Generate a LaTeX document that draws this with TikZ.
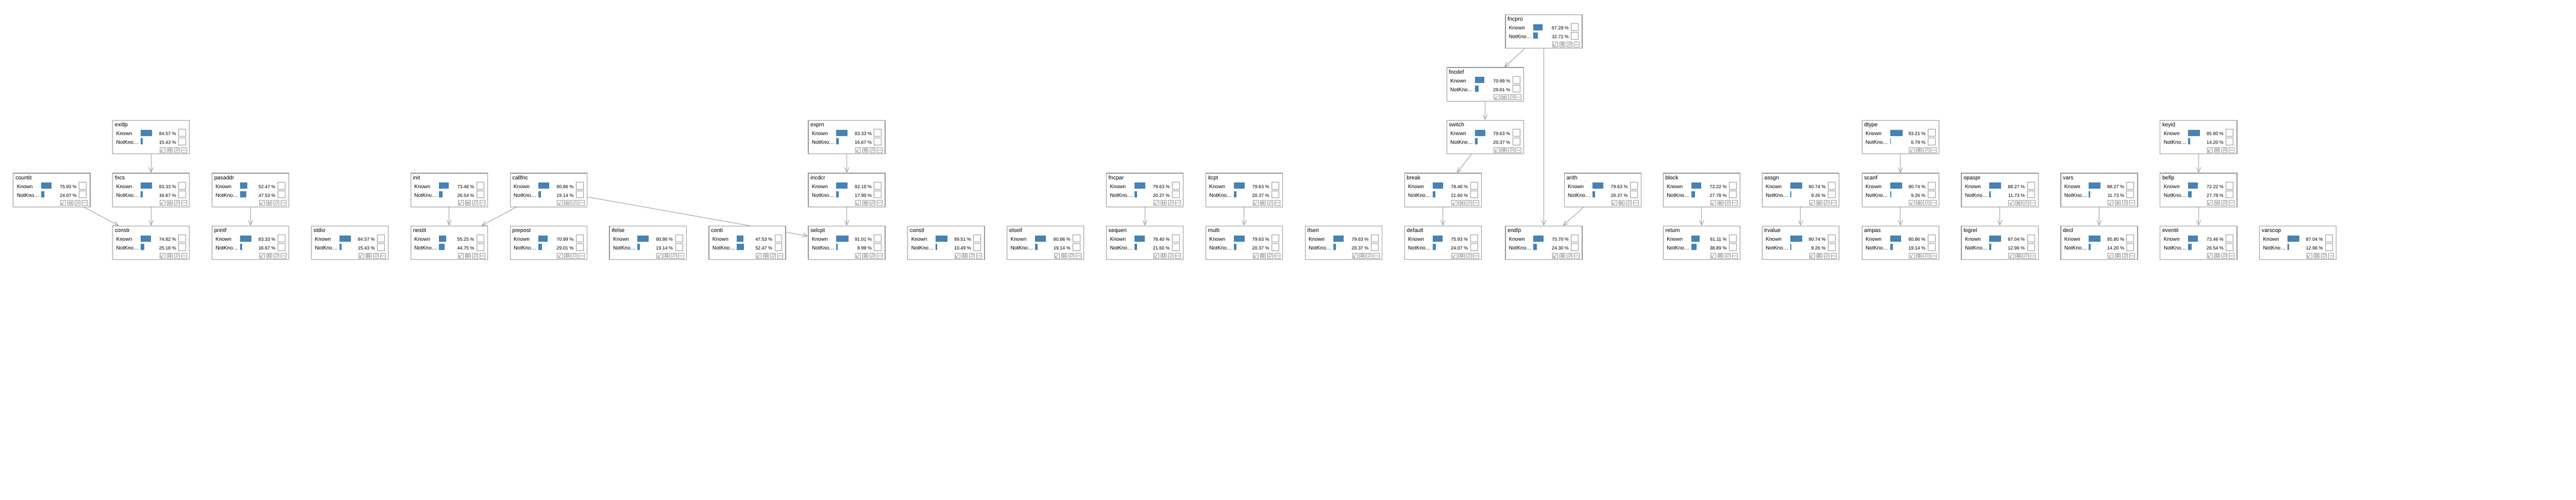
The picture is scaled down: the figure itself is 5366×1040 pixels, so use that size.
\documentclass[tikz,border=0pt]{standalone}
\usepackage{fontspec}
\setmainfont{Liberation Sans}
\usetikzlibrary{arrows.meta,backgrounds}

\definecolor{barblue}{RGB}{70,130,180}
\definecolor{edgegray}{RGB}{160,160,160}
\definecolor{boxgray}{RGB}{150,150,150}

\tikzset{
  bnbox/.style={draw=boxgray,line width=1.4pt,fill=white,minimum width=160pt,
    minimum height=70pt,inner sep=0pt,anchor=north west},
  bntitle/.style={anchor=base west,inner sep=0pt,font=\fontsize{11.5}{13}\selectfont},
  bnlabel/.style={anchor=base west,inner sep=0pt,font=\fontsize{10.8}{12}\selectfont},
  bnpct/.style={anchor=base east,inner sep=0pt,font=\fontsize{9.6}{11}\selectfont},
  bncheck/.style={draw=boxgray,line width=0.9pt},
  bnicon/.style={draw=boxgray,line width=0.8pt},
  link/.style={draw=edgegray,line width=1.1pt,-{Straight Barb[length=10pt,width=9pt]}}
}

% one network node: name, left, top, known, not known
\newcommand{\bnode}[5]{%
  \node[bnbox] (#1) at (#2,-#3) {};
  \begin{scope}[shift={(#2,-#3)}]
    \node[bntitle] at (5,-14) {#1};
    \node[bnlabel] at (8,-32) {Known};
    \node[bnlabel] at (8,-50) {NotKno…};
    \pgfmathsetmacro\kbar{max(2,0.28*#4)}
    \pgfmathsetmacro\nbar{max(2,0.28*#5)}
    \fill[barblue] (59,-20) rectangle ++(\kbar,-13);
    \fill[barblue] (59,-38) rectangle ++(\nbar,-13);
    \node[bnpct] at (133,-32) {#4 \%};
    \node[bnpct] at (133,-50) {#5 \%};
    \draw[bncheck] (138,-19) rectangle ++(15,-15);
    \draw[bncheck] (138,-37) rectangle ++(15,-15);
    % tool icons
    \foreach \k in {0,...,3}
      \draw[bnicon] (99+15*\k,-57) rectangle ++(11,-11);
    \draw[bnicon] (107.5,-59.5) -- (101.5,-65.5);
    \draw[bnicon] (101.5,-61.5) -- (101.5,-65.5) -- (105.5,-65.5);
    \draw[bnicon] (117.7,-58.5) -- (117.7,-66.5) (121.3,-58.5) -- (121.3,-66.5)
      (115.5,-60.7) -- (123.5,-60.7) (115.5,-64.3) -- (123.5,-64.3);
    \draw[bnicon] (135.5,-61.5) circle (2.6);
    \draw[bnicon] (133.6,-63.4) -- (131,-66);
    \draw[bnicon] (145.5,-62.5) -- (153.5,-62.5);
  \end{scope}}

\begin{document}
\begin{tikzpicture}[x=1pt,y=1pt]
  \useasboundingbox (0,0) rectangle (5366,-1040);
  % top rows
  \bnode{fncpro}{3135}{30}{67.28}{32.72}
  \bnode{fncdef}{3013}{140}{70.99}{29.01}
  \bnode{exitlp}{234}{250}{84.57}{15.43}
  \bnode{exprn}{1683}{250}{83.33}{16.67}
  \bnode{switch}{3013}{250}{79.63}{20.37}
  \bnode{dtype}{3878}{250}{93.21}{6.79}
  \bnode{keyid}{4499}{250}{85.80}{14.20}
  % fourth row
  \bnode{countit}{27}{360}{75.93}{24.07}
  \bnode{fncs}{234}{360}{83.33}{16.67}
  \bnode{pasaddr}{441}{360}{52.47}{47.53}
  \bnode{init}{855}{360}{73.46}{26.54}
  \bnode{callfnc}{1062}{360}{80.86}{19.14}
  \bnode{incdcr}{1683}{360}{82.10}{17.90}
  \bnode{fncpar}{2304}{360}{79.63}{20.37}
  \bnode{itcpt}{2511}{360}{79.63}{20.37}
  \bnode{break}{2925}{360}{78.40}{21.60}
  \bnode{arith}{3258}{360}{79.63}{20.37}
  \bnode{block}{3464}{360}{72.22}{27.78}
  \bnode{assgn}{3670}{360}{90.74}{9.26}
  \bnode{scanf}{3878}{360}{90.74}{9.26}
  \bnode{opaspr}{4085}{360}{88.27}{11.73}
  \bnode{vars}{4292}{360}{88.27}{11.73}
  \bnode{beflp}{4499}{360}{72.22}{27.78}
  % bottom row
  \bnode{constr}{234}{470}{74.82}{25.18}
  \bnode{printf}{441}{470}{83.33}{16.67}
  \bnode{stdio}{648}{470}{84.57}{15.43}
  \bnode{nestit}{855}{470}{55.25}{44.75}
  \bnode{prepost}{1062}{470}{70.99}{29.01}
  \bnode{ifelse}{1269}{470}{80.86}{19.14}
  \bnode{conti}{1476}{470}{47.53}{52.47}
  \bnode{selcpt}{1683}{470}{91.01}{8.99}
  \bnode{constl}{1890}{470}{89.51}{10.49}
  \bnode{elseif}{2097}{470}{80.86}{19.14}
  \bnode{sequen}{2304}{470}{78.40}{21.60}
  \bnode{multi}{2511}{470}{79.63}{20.37}
  \bnode{ifseri}{2718}{470}{79.63}{20.37}
  \bnode{default}{2925}{470}{75.93}{24.07}
  \bnode{endlp}{3135}{470}{75.70}{24.30}
  \bnode{return}{3464}{470}{61.11}{38.89}
  \bnode{lrvalue}{3670}{470}{90.74}{9.26}
  \bnode{ampas}{3878}{470}{80.86}{19.14}
  \bnode{logrel}{4085}{470}{87.04}{12.96}
  \bnode{decl}{4292}{470}{85.80}{14.20}
  \bnode{eventit}{4499}{470}{73.46}{26.54}
  \bnode{varscop}{4706}{470}{87.04}{12.96}
  \begin{pgfonlayer}{background}
    \fill[white] (0,0) rectangle (5366,-1040);
    % links
    \draw[link] (exitlp) -- (fncs);
    \draw[link] (fncs) -- (constr);
    \draw[link] (countit) -- (constr);
    \draw[link] (pasaddr) -- (printf);
    \draw[link] (init) -- (nestit);
    \draw[link] (callfnc) -- (nestit);
    \draw[link] (callfnc) -- (selcpt);
    \draw[link] (exprn) -- (incdcr);
    \draw[link] (incdcr) -- (selcpt);
    \draw[link] (fncpar) -- (sequen);
    \draw[link] (itcpt) -- (multi);
    \draw[link] (fncpro) -- (fncdef);
    \draw[link] (fncdef) -- (switch);
    \draw[link] (switch) -- (break);
    \draw[link] (break) -- (default);
    \draw[link] (fncpro) -- (endlp);
    \draw[link] (arith) -- (endlp);
    \draw[link] (block) -- (return);
    \draw[link] (assgn) -- (lrvalue);
    \draw[link] (dtype) -- (scanf);
    \draw[link] (scanf) -- (ampas);
    \draw[link] (opaspr) -- (logrel);
    \draw[link] (vars) -- (decl);
    \draw[link] (keyid) -- (beflp);
    \draw[link] (beflp) -- (eventit);
  \end{pgfonlayer}
\end{tikzpicture}
\end{document}
